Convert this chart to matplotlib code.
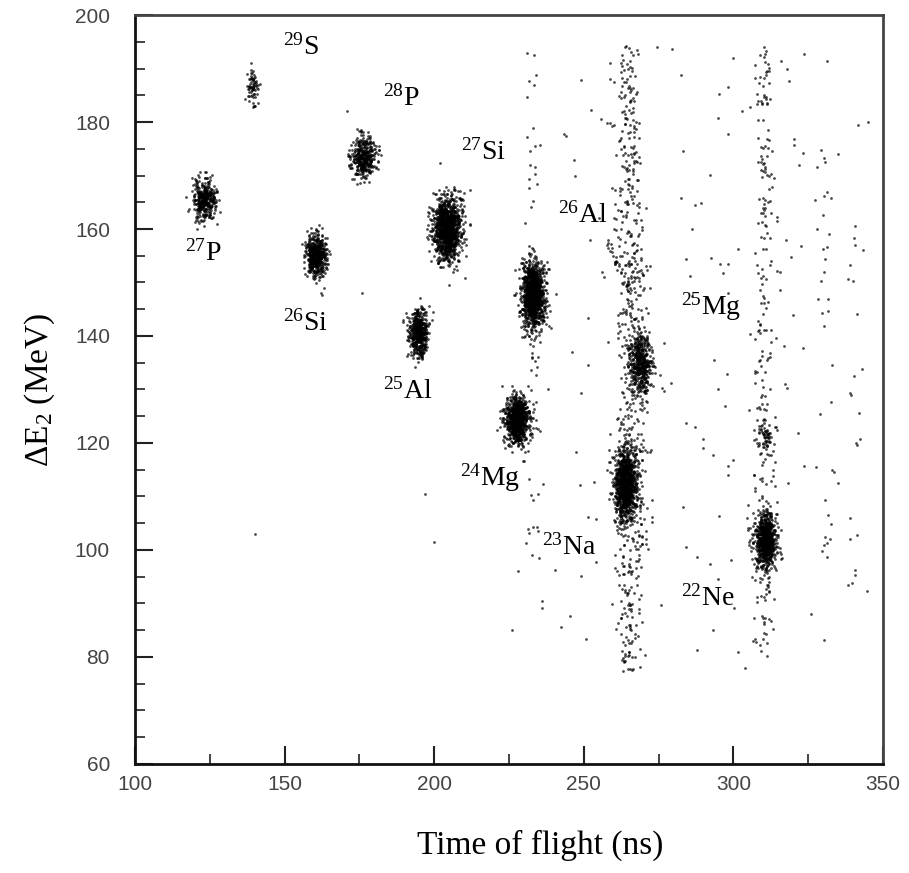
import numpy as np
import matplotlib
matplotlib.use("Agg")
import matplotlib.pyplot as plt

plt.rcParams['mathtext.fontset'] = 'custom'
plt.rcParams['mathtext.rm'] = 'Liberation Serif'
plt.rcParams['mathtext.it'] = 'Liberation Serif:italic'

# ---- blobs: centre (ns, MeV), spread, number of hits
blob_x = [139.5, 123.4, 176.3, 160.5, 204.3, 194.6, 233.1, 227.7, 268.9, 263.9, 310.7, 310.5]
blob_y = [186.8, 165.6, 173.4, 155.0, 160.2, 140.6, 147.8, 124.2, 134.8, 112.3, 101.8, 121.5]
blob_sx = [1.1, 2.0, 2.1, 1.7, 2.4, 1.6, 2.0, 2.0, 1.8, 1.9, 1.9, 1.7]
blob_sy = [1.9, 2.0, 1.8, 2.0, 3.0, 2.1, 3.2, 2.2, 2.6, 3.1, 2.7, 1.9]
blob_n = [70, 380, 380, 500, 1100, 500, 1100, 850, 450, 1000, 700, 60]

# ---- vertical bands of scattered hits: x centre, x spread, y from, y to, count
band_x = [233.0, 265.0, 269.0, 310.0, 331.0, 341.0]
band_sx = [1.5, 2.2, 1.5, 1.8, 1.2, 1.5]
band_lo = [85, 77, 100, 80, 95, 90]
band_hi = [195, 195, 160, 195, 175, 180]
band_n = [60, 500, 120, 240, 25, 15]

# ---- loose single hits
lone_x = [140, 197, 200, 228, 226, 176, 171, 247, 252, 256, 262, 238, 283, 290, 295, 286, 300, 318, 322, 328, 335, 345, 303, 320, 333, 339, 326]
lone_y = [103, 110.5, 101.5, 96, 85, 148, 182, 170, 158, 152, 155, 130, 108, 119, 130, 160, 192, 190, 172, 160, 174, 180, 182, 144, 115, 102, 88]

# ---- labels
iso_names = [r'$^{29}$S', r'$^{28}$P', r'$^{27}$Si', r'$^{26}$Al', r'$^{27}$P', r'$^{26}$Si',
             r'$^{25}$Mg', r'$^{25}$Al', r'$^{24}$Mg', r'$^{23}$Na', r'$^{22}$Ne']
iso_x = [149.5, 182.9, 209.0, 241.5, 116.7, 149.5, 282.6, 182.9, 208.7, 236.1, 282.6]
iso_y = [194.0, 184.5, 174.4, 162.6, 155.5, 142.4, 145.4, 129.7, 113.5, 100.4, 91.0]

rng = np.random.default_rng(7)
px, py = [], []
for cx, cy, sx, sy, n in zip(blob_x, blob_y, blob_sx, blob_sy, blob_n):
    px.append(rng.normal(cx, sx, n))
    py.append(rng.normal(cy, sy, n))
for cx, sx, lo, hi, n in zip(band_x, band_sx, band_lo, band_hi, band_n):
    px.append(rng.normal(cx, sx, n))
    py.append(rng.uniform(lo, hi, n))
# diagonal streak next to 26Al
t = rng.uniform(0, 1, 35)
px.append(257 + 9 * t + rng.normal(0, 0.6, 35))
py.append(158 - 10 * t + rng.normal(0, 0.6, 35))
# thin background over the right half
px.append(rng.uniform(240, 346, 140))
py.append(rng.uniform(78, 195, 140))
px.append(np.array(lone_x, float))
py.append(np.array(lone_y, float))
px = np.concatenate(px)
py = np.concatenate(py)

fig = plt.figure(figsize=(9.09, 8.73), dpi=100)
ax = fig.add_axes([0.1485, 0.1249, 0.8229, 0.8579])
ax.scatter(px, py, s=4, c='black', alpha=0.7, linewidths=0)

ax.set_xlim(100, 350)
ax.set_ylim(60, 200)
ax.set_xticks([100, 150, 200, 250, 300, 350])
ax.set_xticks([125, 175, 225, 275, 325], minor=True)
ax.set_yticks(np.arange(60, 201, 20))
ax.set_yticks(np.arange(65, 200, 5), minor=True)
ax.tick_params(which='both', direction='in', top=False, right=False, color='#222222')
ax.tick_params(which='major', length=13, width=1.5)
ax.tick_params(which='minor', length=7, width=1.2)
ax.tick_params(axis='y', pad=18)
ax.tick_params(axis='x', pad=8)
for lab in ax.get_xticklabels() + ax.get_yticklabels():
    lab.set_family('Liberation Sans')
    lab.set_fontsize(15)
    lab.set_color('#444444')
for side in ['left', 'bottom']:
    ax.spines[side].set_linewidth(2.0)
    ax.spines[side].set_color('#111111')
for side in ['top', 'right']:
    ax.spines[side].set_linewidth(2.0)
    ax.spines[side].set_color('#444444')

for name, x, y in zip(iso_names, iso_x, iso_y):
    ax.text(x, y, name, fontsize=20, family='Liberation Serif', ha='left', va='center')

fig.text(0.594, 0.032, 'Time of flight (ns)', fontsize=24, family='Liberation Serif', ha='center', va='center')
fig.text(0.044, 0.553, r'$\mathrm{\Delta E_2}$ (MeV)', fontsize=24, family='Liberation Serif',
         ha='center', va='center', rotation=90)

fig.savefig('out.png', dpi=100)
